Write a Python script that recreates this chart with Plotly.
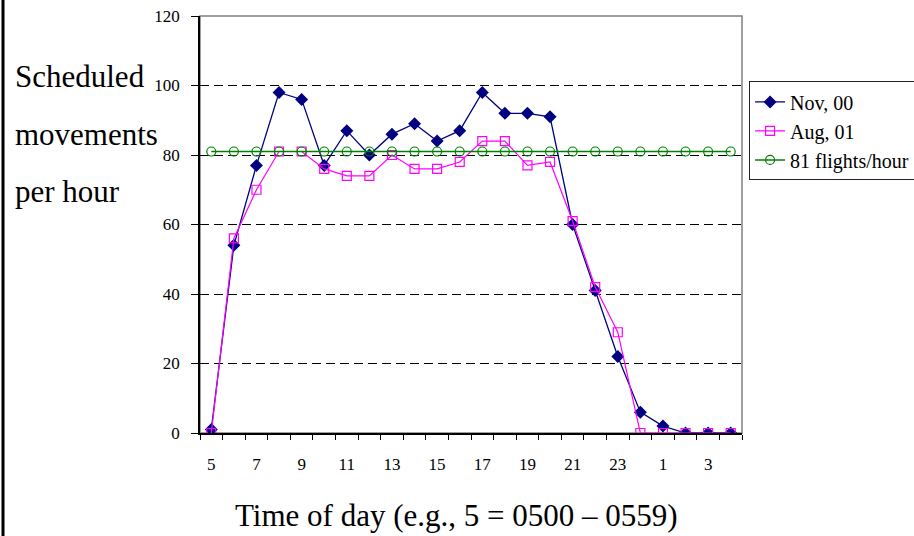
import plotly.graph_objects as go

hours = [5, 6, 7, 8, 9, 10, 11, 12, 13, 14, 15, 16, 17, 18, 19, 20, 21, 22, 23, 0, 1, 2, 3, 4]
nov_00 = [1, 54, 77, 98, 96, 77, 87, 80, 86, 89, 84, 87, 98, 92, 92, 91, 60, 41, 22, 6, 2, 0, 0, 0]
aug_01 = [0, 56, 70, 81, 81, 76, 74, 74, 80, 76, 76, 78, 84, 84, 77, 78, 61, 42, 29, 0, 0, 0, 0, 0]
capacity = [81] * 24
tick_labels = ["5", "7", "9", "11", "13", "15", "17", "19", "21", "23", "1", "3"]

x_idx = list(range(len(hours)))
label_pos = [i for i in x_idx if i % 2 == 0]

FONT = "Liberation Serif"

fig = go.Figure()
fig.add_trace(go.Scatter(
    x=x_idx, y=nov_00, name="Nov, 00", mode="lines+markers",
    line=dict(color="#000080", width=1.3),
    marker=dict(symbol="diamond", size=10, color="#000080"),
    legendgroup="a",
))
fig.add_trace(go.Scatter(
    x=x_idx, y=aug_01, name="Aug, 01", mode="lines+markers",
    line=dict(color="#FF00FF", width=1.2),
    marker=dict(symbol="square-open", size=9, color="#FF00FF", line=dict(width=1.2)),
    legendgroup="b",
))
fig.add_trace(go.Scatter(
    x=x_idx, y=capacity, name="81 flights/hour", mode="lines+markers",
    line=dict(color="#008000", width=1.5),
    marker=dict(symbol="circle-open", size=9, color="#008000", line=dict(width=1.2)),
    legendgroup="c",
))

fig.update_layout(
    width=914, height=536,
    margin=dict(l=200, r=172, t=16, b=103, autoexpand=False),
    paper_bgcolor="white", plot_bgcolor="white",
    font=dict(family=FONT, size=17, color="black"),
    showlegend=True,
    legend=dict(
        x=1.013, y=0.843, xanchor="left", yanchor="top",
        bordercolor="#222222", borderwidth=1, bgcolor="white",
        font=dict(family=FONT, size=20, color="black"),
        tracegroupgap=0,
    ),
    xaxis=dict(
        range=[-0.5, 23.5],
        tickmode="array", tickvals=label_pos, ticktext=tick_labels,
        ticks="", showgrid=False, zeroline=False,
        showline=True, linecolor="black", linewidth=1.5,
        ticklabelstandoff=15,
        tickfont=dict(family=FONT, size=17, color="black"),
        minor=dict(
            tickmode="array",
            tickvals=[i - 0.5 for i in range(len(hours) + 1)],
            ticks="outside", ticklen=5, tickcolor="black", tickwidth=1, showgrid=False,
        ),
    ),
    yaxis=dict(
        range=[0, 120], tickmode="linear", tick0=0, dtick=20,
        ticks="outside", ticklen=7, tickcolor="black", tickwidth=1,
        showgrid=True, gridcolor="black", gridwidth=1, griddash="9px,5px",
        zeroline=False, showline=True, linecolor="black", linewidth=1.5,
        ticklabelstandoff=8,
        tickfont=dict(family=FONT, size=17, color="black"),
    ),
)

# plot area border (gray) on top/right
fig.add_shape(type="rect", xref="paper", yref="paper", x0=0, x1=1, y0=0, y1=1,
              line=dict(color="#808080", width=1.5), layer="below")
# slide frame line on the far left
fig.add_shape(type="line", xref="paper", yref="paper",
              x0=(3 - 200) / 542, x1=(3 - 200) / 542, y0=-103 / 417, y1=16 / 417 + 1,
              line=dict(color="black", width=3))

# y-axis title as three left-aligned lines
for txt, ypx in [("Scheduled", 76), ("movements", 134), ("per hour", 191)]:
    fig.add_annotation(
        text=txt, xref="paper", yref="paper",
        x=(13 - 200) / 542, y=(433 - ypx) / 417,
        xanchor="left", yanchor="middle", showarrow=False,
        font=dict(family=FONT, size=31, color="black"),
    )

fig.add_annotation(
    text="Time of day (e.g., 5 = 0500 \u2013 0559)", xref="paper", yref="paper",
    x=(456 - 200) / 542, y=(433 - 515) / 417,
    xanchor="center", yanchor="middle", showarrow=False,
    font=dict(family=FONT, size=31, color="black"),
)

fig.write_html("out.html")
